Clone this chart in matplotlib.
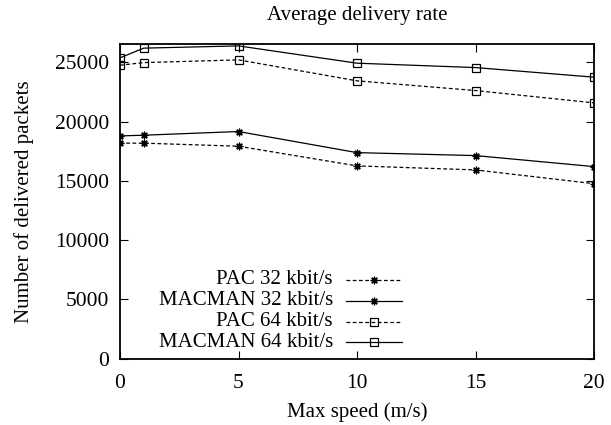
import matplotlib.pyplot as plt

# max speed (m/s)
speed = [0, 1, 5, 10, 15, 20]

pac32 = [18180, 18180, 17920, 16260, 15920, 14760]
macman32 = [18790, 18850, 19160, 17380, 17130, 16200]
pac64 = [24760, 24980, 25210, 23440, 22620, 21580]
macman64 = [25380, 26200, 26390, 24930, 24560, 23750]

labels = ['PAC 32 kbit/s', 'MACMAN 32 kbit/s', 'PAC 64 kbit/s', 'MACMAN 64 kbit/s']

plt.rcParams['font.family'] = 'Liberation Serif'
plt.rcParams['font.size'] = 15

fig = plt.figure(figsize=(6.11, 4.25), dpi=100)
ax = fig.add_axes([120/611., 1-358.5/425., 474/611., 314.5/425.])

star = (8, 2, 0)
dash = (3, 2)
styles = [
    dict(marker=star, ls='--', dashes=dash),
    dict(marker=star, ls='-'),
    dict(marker='s', ls='--', dashes=dash),
    dict(marker='s', ls='-'),
]
series = [pac32, macman32, pac64, macman64]

for ys, st in zip(series, styles):
    ax.plot(speed, ys, color='k', lw=0.9, ms=5.5, mfc='none', mew=0.9, **st)

ax.set_xlim(0, 20)
ax.set_ylim(0, 26550)
ax.set_xticks([0, 5, 10, 15, 20])
ax.set_yticks([0, 5000, 10000, 15000, 20000, 25000])
ax.tick_params(direction='in', length=6, width=0.8, top=True, right=True,
               labelsize=15.5)
ax.tick_params(axis='x', pad=11)
ax.tick_params(axis='y', pad=8)
for s in ax.spines.values():
    s.set_linewidth(1.3)

ax.set_title('Average delivery rate', fontsize=15, pad=17)
ax.set_xlabel('Max speed (m/s)', fontsize=15, labelpad=7)
ax.set_ylabel('Number of delivered packets', fontsize=15, labelpad=15)

# key: right-aligned text with a line sample to its right
row_y = [280, 300.7, 321.5, 342.3]
for lab, st, yp in zip(labels, styles, row_y):
    yy = 1 - (yp - 44) / 314.5
    x_txt = (333 - 120) / 474.
    x0, x1 = (346 - 120) / 474., (402 - 120) / 474.
    ax.text(x_txt, yy, lab, transform=ax.transAxes, ha='right', va='center', fontsize=15)
    kw = dict(st)
    mk = kw.pop('marker')
    ax.plot([x0, x1], [yy, yy], color='k', lw=0.9, transform=ax.transAxes, clip_on=False, **kw)
    ax.plot([(x0 + x1) / 2], [yy], color='k', marker=mk, ms=5.5, mfc='none', mew=0.9,
            ls='none', transform=ax.transAxes, clip_on=False)

plt.savefig('out.png', dpi=100)
